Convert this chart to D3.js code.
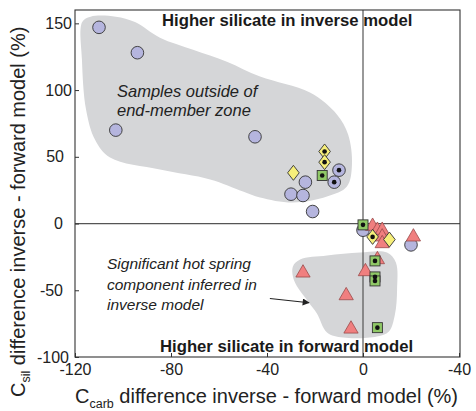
<!DOCTYPE html>
<html>
<head>
<meta charset="utf-8">
<script src="https://cdn.jsdelivr.net/npm/d3@7/dist/d3.min.js"></script>
<style>
  html, body { margin: 0; padding: 0; background: #fff; }
  svg { display: block; font-family: "Liberation Sans", Arial, sans-serif; }
</style>
</head>
<body>
<svg id="chart" width="476" height="411"></svg>
<script>
// ---------- DATA ----------
const xTicks = [-120, -80, -40, 0, 40];
const xTickLabels = ["-120", "-80", "-40", "0", "-40"];
const yTicks = [-100, -50, 0, 50, 100, 150];
const yTickLabels = ["-100", "-50", "0", "50", "100", "150"];

// purple circles (plain)
const circles = [
  [-110, 147], [-94, 128], [-103, 70], [-45, 65],
  [-24, 31], [-30, 22], [-25, 21], [-21, 9],
  [0, -5], [20, -16]
];
// purple circles with dot
const dotCircles = [[-10, 40], [-12, 31]];
// pink triangles
const triangles = [
  [4, -2], [6, -5], [8, -5], [8, -10], [8, -15], [21, -10],
  [6, -27], [1, -36], [-25, -37], [-7, -54], [-5, -79]
];
// yellow diamonds (plain)
const diamonds = [[-29, 38], [11, -12]];
// yellow diamonds with dot
const dotDiamonds = [[-16, 54], [-16, 46], [4, -10]];
// green squares with dot
const dotSquares = [[-17, 36], [0, -1], [5, -28], [5, -40], [5, -43], [6, -78]];

// shaded zones (data coordinates)
const zoneUpper = [
  [-117, 151], [-113.5, 155], [-103, 155], [-95, 151], [-84.6, 139.3],
  [-70.8, 130.3], [-56.7, 121.3], [-42.9, 110.1], [-22.1, 98.1],
  [-10.8, 81.6], [-6.2, 66.7], [-4.6, 44.2], [-6.7, 27.7], [-15, 20.2],
  [-29.2, 15.7], [-42.9, 19.5], [-50, 24], [-63.7, 33], [-84.6, 40.4],
  [-105.4, 49.4], [-111.7, 62.9], [-115.4, 85.4], [-117.1, 122.8]
];
const zoneLower = [
  [-26.2, -27], [-15, -24], [-1.2, -21.7], [10, -21.7], [13.7, -29.2],
  [14.2, -49.4], [13.3, -68.2], [10.8, -80.9], [5.8, -84.6], [-8.3, -85.4],
  [-15, -81.6], [-19.2, -67.4], [-22.9, -58.4], [-28.7, -42.7], [-29.2, -32.2]
];
const arrowLine = [[-38.8, -56.2], [-22.5, -59.3]];

// ---------- LAYOUT ----------
const svg = d3.select("#chart");
const L = 75, R = 460, T = 10, B = 357;
const x = d3.scaleLinear().domain([-120, 40]).range([L, R - 1]);
const y = d3.scaleLinear().domain([-100, 160]).range([B, T]);

const greyFill = "#d5d6d8";
const blob = d3.line().x(d => x(d[0])).y(d => y(d[1])).curve(d3.curveCatmullRomClosed.alpha(0.5));
svg.append("path").attr("d", blob(zoneUpper)).attr("fill", greyFill);
svg.append("path").attr("d", blob(zoneLower)).attr("fill", greyFill);

// zero lines
svg.append("line").attr("x1", x(0)).attr("x2", x(0)).attr("y1", T).attr("y2", B)
  .attr("stroke", "#555").attr("stroke-width", 1.2);
svg.append("line").attr("x1", L).attr("x2", R).attr("y1", y(0)).attr("y2", y(0))
  .attr("stroke", "#555").attr("stroke-width", 1.2);

// frame
svg.append("rect").attr("x", L).attr("y", T).attr("width", R - L).attr("height", B - T)
  .attr("fill", "none").attr("stroke", "#333").attr("stroke-width", 1.1);

// axes
const yAxis = d3.axisLeft(y).tickValues(yTicks)
  .tickFormat((d, i) => yTickLabels[i]).tickSizeInner(-4).tickSizeOuter(0).tickPadding(3);
const gy = svg.append("g").attr("transform", `translate(${L},0)`).call(yAxis);
const yLabelShift = {"150": 0, "100": 0, "50": -8, "0": -9, "-50": -9, "-100": -3};
gy.select(".domain").remove();
gy.selectAll(".tick line").attr("stroke", "#333");
gy.selectAll(".tick text").attr("font-size", 16).attr("fill", "#222")
  .attr("font-family", "Liberation Sans, Arial, sans-serif")
  .attr("dx", (d, i) => yLabelShift[yTickLabels[i]]);

const xAxis = d3.axisBottom(x).tickValues(xTicks)
  .tickFormat((d, i) => xTickLabels[i]).tickSizeInner(-4).tickSizeOuter(0).tickPadding(7);
const gx = svg.append("g").attr("transform", `translate(0,${B})`).call(xAxis);
gx.select(".domain").remove();
gx.selectAll(".tick line").attr("stroke", "#333");
gx.selectAll(".tick text").attr("font-size", 16).attr("fill", "#222")
  .attr("font-family", "Liberation Sans, Arial, sans-serif");

// ---------- MARKERS ----------
const stroke = "#333";
const purple = "#b5b5de", pink = "#f07f7f", yellow = "#f7ef7a", green = "#8fc866";

function dot(g, data) {
  g.selectAll(null).data(data).enter().append("circle")
    .attr("cx", d => x(d[0])).attr("cy", d => y(d[1])).attr("r", 2.3).attr("fill", "#111");
}

const gC = svg.append("g");
gC.selectAll("circle").data(circles.concat(dotCircles)).enter().append("circle")
  .attr("cx", d => x(d[0])).attr("cy", d => y(d[1])).attr("r", 6.3)
  .attr("fill", purple).attr("stroke", stroke).attr("stroke-width", 0.9);
dot(gC, dotCircles);

const tri = d3.symbol().type(d3.symbolTriangle).size(88);
svg.append("g").selectAll("path").data(triangles).enter().append("path")
  .attr("d", tri).attr("transform", d => `translate(${x(d[0])},${y(d[1])})`)
  .attr("fill", pink).attr("stroke", "#9a4a4a").attr("stroke-width", 0.8);

const diamondPath = "M0,-7.5L5.8,0L0,7.5L-5.8,0Z";
const gD = svg.append("g");
gD.selectAll("path").data(diamonds.concat(dotDiamonds)).enter().append("path")
  .attr("d", diamondPath).attr("transform", d => `translate(${x(d[0])},${y(d[1])})`)
  .attr("fill", yellow).attr("stroke", stroke).attr("stroke-width", 0.9);
dot(gD, dotDiamonds);

const gS = svg.append("g");
gS.selectAll("rect").data(dotSquares).enter().append("rect")
  .attr("x", d => x(d[0]) - 5).attr("y", d => y(d[1]) - 5).attr("width", 10).attr("height", 10)
  .attr("fill", green).attr("stroke", stroke).attr("stroke-width", 0.9);
dot(gS, dotSquares);

// ---------- ANNOTATIONS ----------
svg.append("defs").append("marker").attr("id", "ah")
  .attr("viewBox", "0 0 10 10").attr("refX", 9).attr("refY", 5)
  .attr("markerWidth", 9).attr("markerHeight", 7).attr("markerUnits", "userSpaceOnUse")
  .attr("orient", "auto")
  .append("path").attr("d", "M0,0L10,5L0,10Z").attr("fill", "#222");
svg.append("line")
  .attr("x1", x(arrowLine[0][0])).attr("y1", y(arrowLine[0][1]))
  .attr("x2", x(arrowLine[1][0])).attr("y2", y(arrowLine[1][1]))
  .attr("stroke", "#222").attr("stroke-width", 1.1).attr("marker-end", "url(#ah)");

svg.append("text").attr("x", 162).attr("y", 26).attr("font-size", 16.7).attr("font-weight", "bold")
  .attr("fill", "#1a1a1a").text("Higher silicate in inverse model");
svg.append("text").attr("x", 160).attr("y", 352).attr("font-size", 16.7).attr("font-weight", "bold")
  .attr("fill", "#1a1a1a").text("Higher silicate in forward model");

const it1 = svg.append("text").attr("font-size", 16.5).attr("font-style", "italic").attr("fill", "#222");
it1.append("tspan").attr("x", 117).attr("y", 97).text("Samples outside of");
it1.append("tspan").attr("x", 117).attr("y", 116).text("end-member zone");

const it2 = svg.append("text").attr("font-size", 15.5).attr("font-style", "italic").attr("fill", "#222");
it2.append("tspan").attr("x", 107).attr("y", 269).text("Significant hot spring");
it2.append("tspan").attr("x", 107).attr("y", 289.5).text("component inferred in");
it2.append("tspan").attr("x", 107).attr("y", 310).text("inverse model");

// axis titles
const xt = svg.append("text").attr("x", 75).attr("y", 403).attr("font-size", 20).attr("fill", "#222");
xt.append("tspan").text("C");
xt.append("tspan").attr("font-size", 12.5).attr("dy", 5).text("carb");
xt.append("tspan").attr("dy", -5).text(" difference inverse - forward model (%)");

const yt = svg.append("text").attr("transform", "translate(25,397) rotate(-90)")
  .attr("font-size", 20).attr("fill", "#222");
yt.append("tspan").text("C");
yt.append("tspan").attr("font-size", 12.5).attr("dy", 5).text("sil");
yt.append("tspan").attr("dy", -5).text(" difference inverse - forward model (%)");
</script>
</body>
</html>
